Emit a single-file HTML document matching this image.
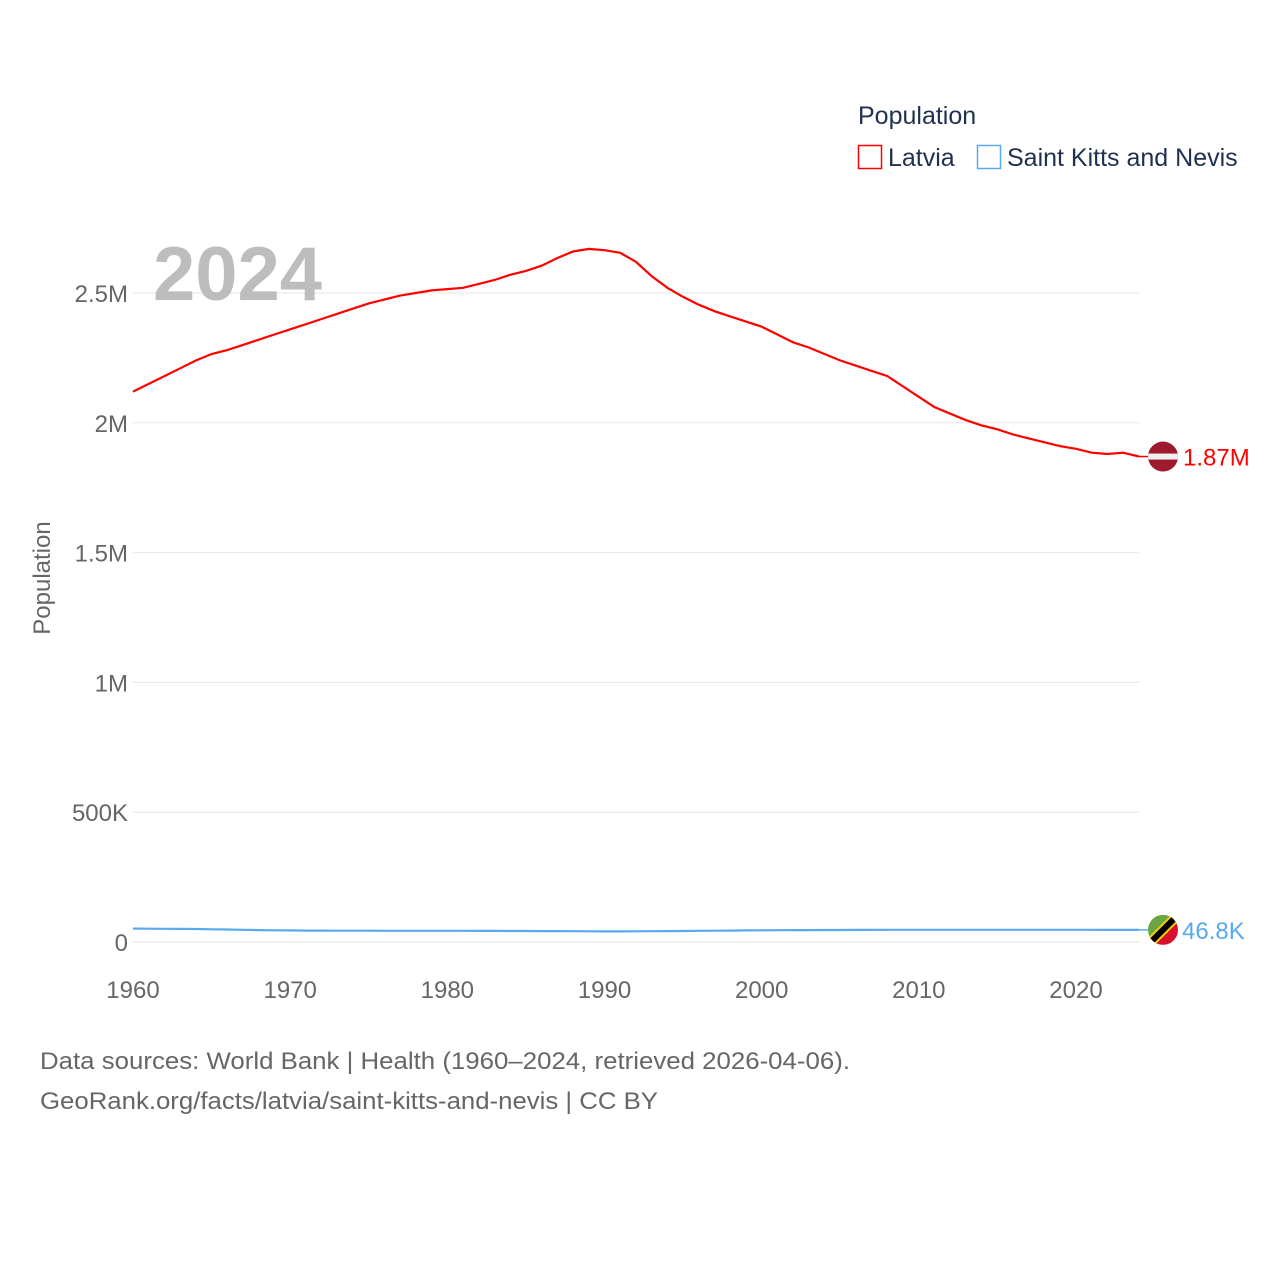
<!DOCTYPE html>
<html><head><meta charset="utf-8"><style>
html,body{margin:0;padding:0;background:#fff;}
body{width:1280px;height:1280px;overflow:hidden;font-family:"Liberation Sans",sans-serif;}
</style></head><body>
<svg id="chart" width="1280" height="1280" viewBox="0 0 1280 1280" xmlns="http://www.w3.org/2000/svg" font-family="Liberation Sans, sans-serif">
<g id="grid"></g>
<g id="yticks"></g>
<g id="xticks"></g>
<text x="153" y="300" font-size="76" font-weight="bold" fill="#bdbdbd">2024</text>
<text transform="translate(50,578) rotate(-90)" text-anchor="middle" font-size="24" fill="#666">Population</text>
<g id="series"></g>
<g>
<text x="858" y="124" font-size="25" fill="#1f3050">Population</text>
<g><rect x="858.5" y="145.5" width="23" height="23" fill="none" stroke="#ff0000" stroke-width="1.5"/><text x="888" y="166" font-size="25" fill="#1f3050">Latvia</text></g>
<g><rect x="977.5" y="145.5" width="23" height="23" fill="none" stroke="#5aa9ef" stroke-width="1.5"/><text x="1007" y="166" font-size="25" fill="#1f3050">Saint Kitts and Nevis</text></g>
</g>
<text x="40" y="1069" font-size="24" fill="#666" textLength="810" lengthAdjust="spacingAndGlyphs">Data sources: World Bank | Health (1960–2024, retrieved 2026-04-06).</text>
<text x="40" y="1109" font-size="24" fill="#666" textLength="618" lengthAdjust="spacingAndGlyphs">GeoRank.org/facts/latvia/saint-kitts-and-nevis | CC BY</text>
</svg>
<script>
const years = [];
for (let y = 1960; y <= 2024; y++) years.push(y);
const latvia = [2.12,2.15,2.18,2.21,2.24,2.265,2.28,2.30,2.32,2.34,2.36,2.38,2.40,2.42,2.44,2.46,2.475,2.49,2.50,2.51,2.515,2.52,2.535,2.55,2.57,2.585,2.605,2.635,2.66,2.67,2.665,2.655,2.62,2.565,2.52,2.485,2.455,2.43,2.41,2.39,2.37,2.34,2.31,2.29,2.265,2.24,2.22,2.20,2.18,2.14,2.10,2.06,2.035,2.01,1.99,1.975,1.955,1.94,1.925,1.91,1.90,1.885,1.88,1.885,1.87];
const skn = [0.0515,0.0512,0.051,0.0505,0.050,0.049,0.048,0.047,0.046,0.045,0.0445,0.044,0.0438,0.0436,0.0435,0.0434,0.0433,0.0432,0.0432,0.0431,0.0431,0.043,0.0428,0.0426,0.0424,0.0422,0.042,0.0418,0.0415,0.0412,0.041,0.041,0.0412,0.0415,0.042,0.0425,0.043,0.0435,0.044,0.0445,0.045,0.0455,0.046,0.046,0.0462,0.0464,0.0466,0.0468,0.047,0.047,0.047,0.047,0.047,0.047,0.047,0.047,0.047,0.047,0.047,0.047,0.047,0.0469,0.0468,0.0468,0.0468];
const yTicks = [0,0.5,1,1.5,2,2.5];
const yTickLabels = ["0","500K","1M","1.5M","2M","2.5M"];
const xTicks = [1960,1970,1980,1990,2000,2010,2020];
const endLabels = ["1.87M","46.8K"];
const NS = "http://www.w3.org/2000/svg";
const xs = yr => 133 + (yr - 1960) * (1076 - 133) / 60;
const ys = v => 942 - v * (942 - 293) / 2.5;
function mk(tag, attrs, parent) { const e = document.createElementNS(NS, tag); for (const k in attrs) e.setAttribute(k, attrs[k]); parent.appendChild(e); return e; }
const grid = document.getElementById('grid'), yt = document.getElementById('yticks'), xt = document.getElementById('xticks'), ser = document.getElementById('series');
yTicks.forEach((v, i) => {
  const l = mk('line', {x1:133, x2:1139, y1:ys(v), y2:ys(v), stroke:'#e6e6e6', 'stroke-width':1}, grid);
  
  
  const t = mk('text', {x:128, y:ys(v)+9, 'text-anchor':'end', 'font-size':24, fill:'#666'}, yt);
  t.textContent = yTickLabels[i];
  
  
});
xTicks.forEach(v => {
  const t = mk('text', {x:xs(v), y:998, 'text-anchor':'middle', 'font-size':24, fill:'#666'}, xt);
  t.textContent = v;
  
  
});
function line(data, color, name) {
  const d = data.map((v, i) => (i ? 'L' : 'M') + xs(years[i]).toFixed(1) + ',' + ys(v).toFixed(1)).join('');
  const p = mk('path', {d, fill:'none', stroke:color, 'stroke-width':2.2}, ser);
  
  
}
line(latvia, '#ff0000', 'latvia-line');
line(skn, '#5aa9ef', 'saint-kitts-line');
const lx = xs(2024), ly = ys(latvia[latvia.length-1]), sy = ys(skn[skn.length-1]);
const cx = 1163;
mk('line', {x1:lx, x2:cx-15, y1:ly, y2:ly, stroke:'#ff0000', 'stroke-width':1.5}, ser);
mk('line', {x1:lx, x2:cx-15, y1:sy, y2:sy, stroke:'#5aa9ef', 'stroke-width':1.5}, ser);
const defs = mk('defs', {}, ser);
const c1 = mk('clipPath', {id:'c1'}, defs); mk('circle', {cx, cy:ly, r:15}, c1);
const c2 = mk('clipPath', {id:'c2'}, defs); mk('circle', {cx, cy:sy, r:15}, c2);
const f1 = mk('g', {'clip-path':'url(#c1)'}, ser);


mk('rect', {x:cx-15, y:ly-15, width:30, height:30, fill:'#9e1b2e'}, f1);
mk('rect', {x:cx-15, y:ly-3, width:30, height:6, fill:'#f0f0f0'}, f1);
const f2 = mk('g', {'clip-path':'url(#c2)'}, ser);


mk('polygon', {points:`${cx-15},${sy-15} ${cx+15},${sy-15} ${cx-15},${sy+15}`, fill:'#6aa644'}, f2);
mk('polygon', {points:`${cx+15},${sy-15} ${cx+15},${sy+15} ${cx-15},${sy+15}`, fill:'#d9102b'}, f2);
mk('line', {x1:cx-15, y1:sy+15, x2:cx+15, y2:sy-15, stroke:'#f5d000', 'stroke-width':10}, f2);
mk('line', {x1:cx-15, y1:sy+15, x2:cx+15, y2:sy-15, stroke:'#000', 'stroke-width':6}, f2);
const t1 = mk('text', {x:1183, y:ly+9, 'font-size':24, fill:'#ff0000'}, ser);
t1.textContent = endLabels[0];


const t2 = mk('text', {x:1182, y:sy+9, 'font-size':24, fill:'#5aa9ef'}, ser);
t2.textContent = endLabels[1];


</script>
</body></html>
